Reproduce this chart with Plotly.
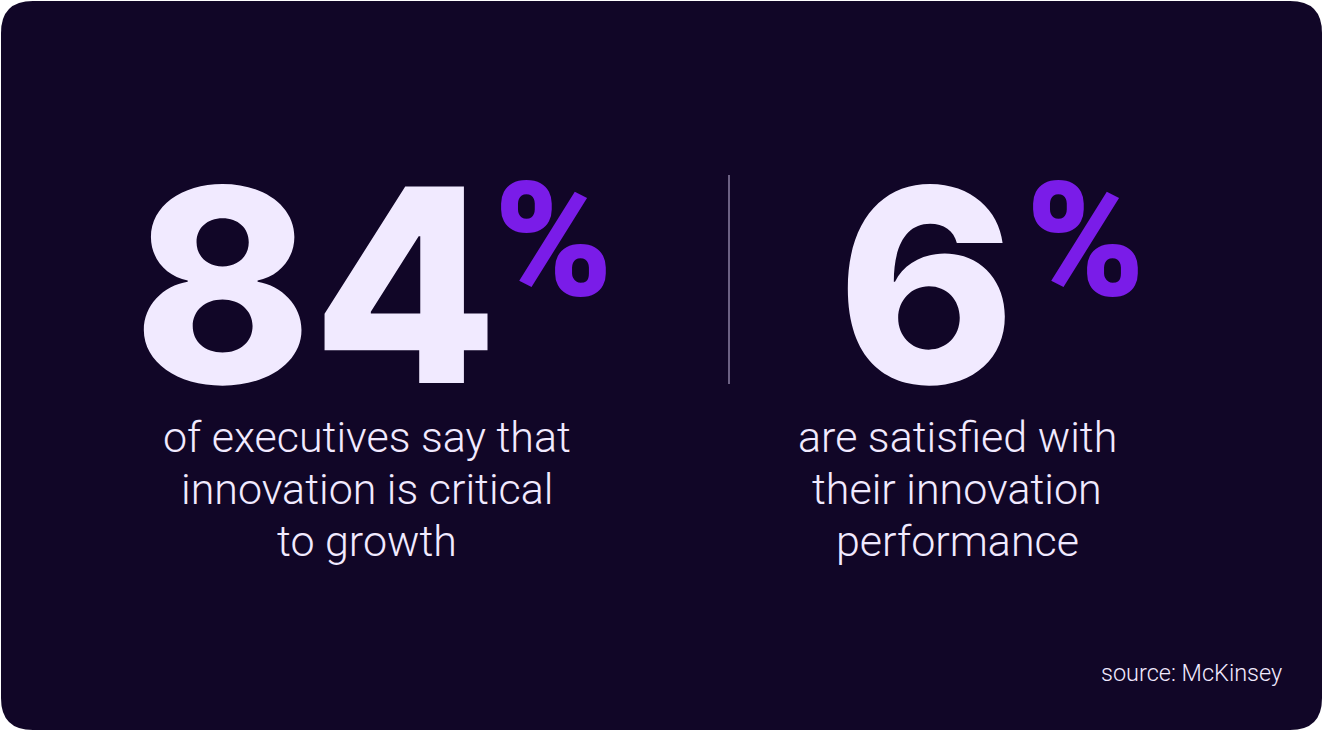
import plotly.graph_objects as go

W, H = 1323, 731

BG = "#110627"
TEXT = "#F1EAFF"
ACCENT = "#7A1CE8"

# stat values and captions
STATS = ["84", "6"]
SUFFIX = "%"
CAPTIONS = [
    ["of executives say that", "innovation is critical", "to growth"],
    ["are satisfied with", "their innovation", "performance"],
]
SOURCE = "source: McKinsey"

# layout positions (pixels)
NUM_X = [315, 926]
PCT_X = [553, 1085]
CAP_X = [367, 957]
NUM_Y = 284
PCT_Y = 240
CAP_Y0 = 437
CAP_STEP = 52


def rounded_rect(x0, y0, x1, y1, r):
    return (
        f"M {x0 + r},{y0} L {x1 - r},{y0} Q {x1},{y0} {x1},{y0 + r} "
        f"L {x1},{y1 - r} Q {x1},{y1} {x1 - r},{y1} "
        f"L {x0 + r},{y1} Q {x0},{y1} {x0},{y1 - r} "
        f"L {x0},{y0 + r} Q {x0},{y0} {x0 + r},{y0} Z"
    )


def main():
    fig = go.Figure()

    fig.add_shape(
        type="path",
        path=rounded_rect(1, 1, W - 1, H - 1, 32),
        fillcolor=BG,
        line=dict(width=0),
        layer="below",
    )
    # divider
    fig.add_shape(
        type="line",
        x0=729, x1=729, y0=175, y1=384,
        line=dict(color="#8B80A3", width=1.5),
    )

    for i, stat in enumerate(STATS):
        fig.add_annotation(
            x=NUM_X[i], y=NUM_Y, text=stat,
            font=dict(family="Inter", size=270, color=TEXT, weight=800),
        )
        fig.add_annotation(
            x=PCT_X[i], y=PCT_Y, text=SUFFIX,
            font=dict(family="Roboto", size=160, color=ACCENT, weight=900),
        )
        for j, line in enumerate(CAPTIONS[i]):
            fig.add_annotation(
                x=CAP_X[i], y=CAP_Y0 + j * CAP_STEP, text=line,
                font=dict(family="Roboto", size=43, color=TEXT, weight=300),
            )

    fig.add_annotation(
        x=1284, y=673, text=SOURCE, xanchor="right",
        font=dict(family="Roboto", size=23.5, color=TEXT, weight=300),
    )

    fig.update_annotations(showarrow=False, xref="x", yref="y")
    fig.update_xaxes(range=[0, W], visible=False, fixedrange=True)
    fig.update_yaxes(range=[H, 0], visible=False, fixedrange=True)
    fig.update_layout(
        width=W,
        height=H,
        margin=dict(l=0, r=0, t=0, b=0),
        paper_bgcolor="white",
        plot_bgcolor="white",
        showlegend=False,
    )
    fig.write_html(
        "out.html",
        config={"displayModeBar": False},
        post_script="document.body.style.margin='0';document.body.style.overflow='hidden';",
    )


if __name__ == "__main__":
    main()
